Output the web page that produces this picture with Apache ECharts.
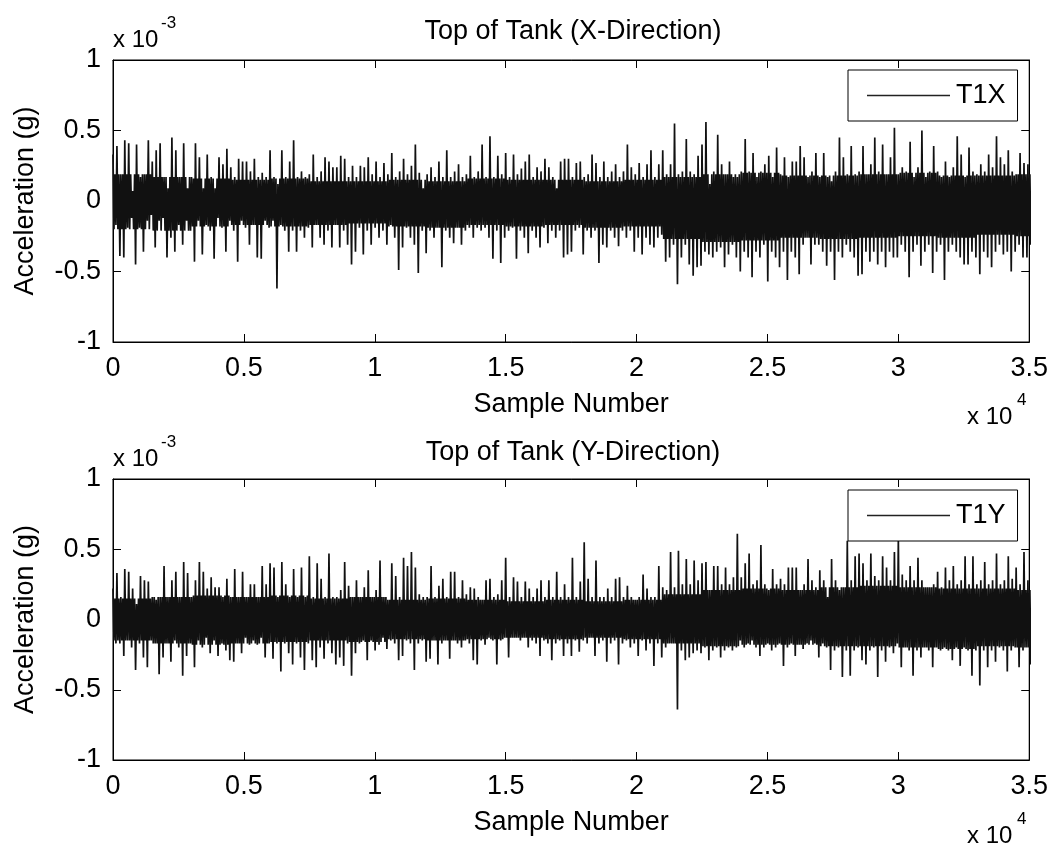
<!DOCTYPE html>
<html>
<head>
<meta charset="utf-8">
<script src="https://cdn.jsdelivr.net/npm/echarts@6/dist/echarts.min.js"></script>
<style>
html,body{margin:0;padding:0;background:#fff;}
#chart{width:1051px;height:848px;}
</style>
</head>
<body>
<div id="chart"></div>
<script>
// Samples per read-off column (one max and one min per column), in sample numbers
const sampleStep = 150;
const coreStep = 1500;   // the core edges below were read every 1500 samples
const xMax = 35000;
const titles = ['Top of Tank (X-Direction)', 'Top of Tank (Y-Direction)'];
const seriesNames = ['T1X', 'T1Y'];
const xTickLabelScale = 1e4;   // "x 10^4"

// Acceleration, units of 1e-3 g: column maxima / minima
const t1xHi = [0.33,0.39,0.19,0.43,0.41,0.07,0.40,0.17,0.19,0.43,0.28,0.36,0.41,0.17,0.09,0.45,0.36,0.17,0.41,0.09,
0.17,0.41,0.31,0.09,0.33,0.17,0.09,0.31,0.26,0.37,0.24,0.17,0.30,0.28,0.28,0.21,0.30,0.17,0.20,0.17,
0.36,0.17,0.12,0.36,0.17,0.28,0.43,0.17,0.21,0.17,0.19,0.33,0.17,0.21,0.31,0.28,0.24,0.24,0.32,0.30,
0.17,0.25,0.17,0.25,0.24,0.31,0.19,0.28,0.17,0.27,0.19,0.34,0.17,0.21,0.30,0.19,0.25,0.40,0.20,0.09,
0.19,0.24,0.17,0.28,0.17,0.36,0.17,0.21,0.26,0.17,0.19,0.32,0.17,0.21,0.40,0.17,0.46,0.17,0.32,0.19,
0.34,0.17,0.33,0.19,0.23,0.28,0.33,0.17,0.24,0.21,0.30,0.24,0.17,0.09,0.28,0.30,0.30,0.17,0.27,0.28,
0.17,0.19,0.33,0.27,0.17,0.28,0.17,0.21,0.26,0.17,0.21,0.40,0.24,0.19,0.27,0.17,0.26,0.36,0.17,0.26,
0.36,0.19,0.26,0.55,0.19,0.21,0.44,0.21,0.19,0.32,0.40,0.56,0.12,0.21,0.47,0.26,0.19,0.28,0.17,0.17,
0.21,0.44,0.21,0.34,0.17,0.21,0.26,0.32,0.17,0.38,0.19,0.31,0.17,0.28,0.28,0.39,0.31,0.17,0.21,0.34,
0.17,0.34,0.17,0.14,0.21,0.45,0.31,0.19,0.39,0.19,0.21,0.39,0.19,0.26,0.45,0.21,0.40,0.19,0.31,0.52,
0.19,0.24,0.21,0.42,0.17,0.24,0.50,0.17,0.21,0.39,0.21,0.17,0.28,0.17,0.24,0.46,0.33,0.17,0.38,0.21,
0.19,0.26,0.21,0.33,0.24,0.46,0.31,0.26,0.36,0.21,0.19,0.34,0.27,0.26];
const t1xLo = [-0.17,-0.39,-0.40,-0.19,-0.12,-0.45,-0.19,-0.36,-0.14,-0.10,-0.33,-0.14,-0.12,-0.40,-0.26,-0.36,-0.17,-0.31,-0.14,-0.21,
-0.43,-0.14,-0.38,-0.17,-0.21,-0.41,-0.12,-0.19,-0.36,-0.14,-0.21,-0.43,-0.14,-0.19,-0.31,-0.17,-0.40,-0.41,-0.14,-0.19,
-0.14,-0.62,-0.17,-0.21,-0.36,-0.21,-0.36,-0.21,-0.26,-0.19,-0.33,-0.17,-0.26,-0.31,-0.21,-0.33,-0.17,-0.33,-0.21,-0.31,
-0.45,-0.36,-0.19,-0.38,-0.21,-0.31,-0.19,-0.26,-0.21,-0.31,-0.17,-0.26,-0.49,-0.33,-0.19,-0.26,-0.31,-0.51,-0.21,-0.37,
-0.21,-0.26,-0.19,-0.47,-0.21,-0.26,-0.30,-0.19,-0.31,-0.21,-0.19,-0.26,-0.19,-0.21,-0.19,-0.26,-0.41,-0.21,-0.44,-0.26,
-0.21,-0.19,-0.41,-0.21,-0.26,-0.37,-0.21,-0.26,-0.33,-0.19,-0.30,-0.21,-0.26,-0.21,-0.40,-0.38,-0.36,-0.21,-0.19,-0.38,
-0.21,-0.26,-0.21,-0.44,-0.31,-0.33,-0.21,-0.26,-0.32,-0.21,-0.26,-0.21,-0.36,-0.26,-0.38,-0.26,-0.31,-0.33,-0.26,-0.24,
-0.43,-0.40,-0.31,-0.59,-0.40,-0.31,-0.45,-0.53,-0.47,-0.46,-0.36,-0.38,-0.40,-0.36,-0.33,-0.47,-0.38,-0.31,-0.40,-0.50,
-0.36,-0.40,-0.54,-0.36,-0.40,-0.31,-0.57,-0.36,-0.40,-0.47,-0.36,-0.56,-0.36,-0.40,-0.52,-0.31,-0.26,-0.45,-0.31,-0.31,
-0.36,-0.46,-0.36,-0.56,-0.36,-0.40,-0.31,-0.36,-0.40,-0.53,-0.52,-0.36,-0.43,-0.36,-0.45,-0.36,-0.47,-0.36,-0.40,-0.40,
-0.31,-0.36,-0.54,-0.36,-0.31,-0.46,-0.36,-0.31,-0.51,-0.36,-0.31,-0.56,-0.36,-0.31,-0.36,-0.40,-0.45,-0.45,-0.36,-0.40,
-0.52,-0.36,-0.40,-0.47,-0.36,-0.31,-0.38,-0.36,-0.50,-0.36,-0.31,-0.40,-0.40,-0.31];
const t1yHi = [0.22,0.33,0.16,0.36,0.34,0.22,0.11,0.31,0.28,0.27,0.16,0.14,0.16,0.38,0.16,0.28,0.34,0.16,0.41,0.33,
0.16,0.28,0.41,0.34,0.22,0.30,0.23,0.23,0.16,0.29,0.16,0.36,0.16,0.34,0.16,0.25,0.25,0.16,0.38,0.25,
0.40,0.37,0.16,0.41,0.25,0.16,0.36,0.16,0.37,0.16,0.45,0.16,0.40,0.29,0.16,0.47,0.16,0.16,0.21,0.41,
0.24,0.16,0.28,0.16,0.23,0.35,0.16,0.21,0.42,0.16,0.14,0.40,0.31,0.16,0.44,0.38,0.48,0.37,0.18,0.16,
0.16,0.38,0.16,0.24,0.29,0.16,0.34,0.34,0.16,0.28,0.18,0.23,0.22,0.16,0.14,0.28,0.29,0.16,0.18,0.28,
0.44,0.16,0.30,0.27,0.16,0.27,0.22,0.16,0.22,0.28,0.16,0.28,0.16,0.34,0.16,0.25,0.16,0.44,0.16,0.27,
0.55,0.29,0.16,0.42,0.16,0.16,0.22,0.16,0.29,0.30,0.16,0.24,0.16,0.14,0.16,0.32,0.22,0.16,0.16,0.38,
0.23,0.21,0.48,0.23,0.49,0.25,0.43,0.25,0.42,0.28,0.40,0.41,0.21,0.38,0.38,0.25,0.37,0.25,0.30,0.61,
0.30,0.40,0.47,0.25,0.28,0.53,0.25,0.21,0.36,0.25,0.29,0.25,0.37,0.37,0.37,0.21,0.25,0.43,0.28,0.23,
0.35,0.28,0.16,0.43,0.28,0.21,0.23,0.56,0.28,0.45,0.47,0.40,0.28,0.47,0.31,0.28,0.45,0.37,0.28,0.48,
0.58,0.32,0.28,0.38,0.28,0.44,0.28,0.23,0.23,0.25,0.34,0.23,0.37,0.28,0.38,0.25,0.28,0.45,0.25,0.45,
0.25,0.28,0.41,0.25,0.28,0.47,0.25,0.28,0.45,0.29,0.37,0.25,0.48,0.28];
const t1yLo = [-0.17,-0.17,-0.26,-0.15,-0.20,-0.36,-0.17,-0.27,-0.34,-0.15,-0.17,-0.39,-0.27,-0.17,-0.30,-0.15,-0.20,-0.40,-0.26,-0.17,
-0.34,-0.15,-0.20,-0.13,-0.24,-0.15,-0.26,-0.17,-0.22,-0.29,-0.30,-0.17,-0.24,-0.13,-0.18,-0.15,-0.18,-0.13,-0.27,-0.17,
-0.28,-0.17,-0.37,-0.17,-0.24,-0.32,-0.17,-0.27,-0.36,-0.17,-0.29,-0.34,-0.20,-0.28,-0.17,-0.24,-0.32,-0.27,-0.33,-0.17,
-0.40,-0.24,-0.17,-0.15,-0.29,-0.15,-0.22,-0.18,-0.13,-0.21,-0.15,-0.17,-0.29,-0.26,-0.15,-0.17,-0.36,-0.17,-0.15,-0.30,
-0.28,-0.15,-0.32,-0.17,-0.15,-0.28,-0.15,-0.17,-0.20,-0.15,-0.17,-0.29,-0.32,-0.15,-0.18,-0.13,-0.15,-0.32,-0.15,-0.13,
-0.27,-0.13,-0.13,-0.15,-0.13,-0.20,-0.15,-0.17,-0.26,-0.15,-0.17,-0.29,-0.17,-0.15,-0.26,-0.17,-0.26,-0.15,-0.23,-0.15,
-0.17,-0.13,-0.26,-0.17,-0.15,-0.30,-0.17,-0.15,-0.32,-0.17,-0.15,-0.20,-0.17,-0.26,-0.15,-0.22,-0.17,-0.33,-0.17,-0.27,
-0.20,-0.17,-0.17,-0.64,-0.22,-0.29,-0.27,-0.24,-0.22,-0.24,-0.20,-0.29,-0.22,-0.20,-0.27,-0.22,-0.20,-0.22,-0.20,-0.15,
-0.20,-0.17,-0.15,-0.20,-0.26,-0.20,-0.17,-0.22,-0.20,-0.17,-0.33,-0.20,-0.17,-0.26,-0.18,-0.21,-0.17,-0.15,-0.17,-0.27,
-0.17,-0.20,-0.36,-0.22,-0.20,-0.41,-0.22,-0.40,-0.22,-0.20,-0.29,-0.32,-0.22,-0.20,-0.41,-0.22,-0.30,-0.20,-0.24,-0.17,
-0.34,-0.20,-0.22,-0.40,-0.22,-0.27,-0.20,-0.22,-0.34,-0.20,-0.22,-0.20,-0.22,-0.29,-0.20,-0.33,-0.20,-0.22,-0.40,-0.22,
-0.47,-0.22,-0.34,-0.22,-0.30,-0.20,-0.22,-0.37,-0.22,-0.20,-0.34,-0.22,-0.20,-0.32];

// Edges of the dense dark core of each trace, read every 1500 samples
const t1xCoreHi = [0.19,0.17,0.16,0.15,0.16,0.14,0.14,0.15,0.14,0.16,0.15,0.15,0.14,0.15,0.17,0.19,0.20,0.18,0.18,0.19,0.20,0.18,0.18,0.19,0.19];
const t1xCoreLo = [-0.20,-0.21,-0.18,-0.17,-0.18,-0.17,-0.16,-0.18,-0.19,-0.17,-0.18,-0.17,-0.19,-0.18,-0.27,-0.29,-0.28,-0.26,-0.27,-0.26,-0.25,-0.26,-0.24,-0.25,-0.24];
const t1yCoreHi = [0.15,0.16,0.17,0.16,0.17,0.15,0.16,0.14,0.15,0.14,0.13,0.14,0.13,0.14,0.18,0.21,0.22,0.21,0.23,0.24,0.23,0.22,0.22,0.21,0.22];
const t1yCoreLo = [-0.15,-0.17,-0.18,-0.17,-0.16,-0.15,-0.16,-0.14,-0.15,-0.14,-0.13,-0.14,-0.13,-0.14,-0.17,-0.19,-0.18,-0.18,-0.19,-0.19,-0.20,-0.21,-0.19,-0.20,-0.19];

// Each read-off column: its maximum, a swing through the core, and its minimum
function buildTrace(hi, lo, coreHi, coreLo) {
  const d = [];
  const q = sampleStep / 4;
  for (let i = 0; i < hi.length; i++) {
    const k = Math.min(Math.floor(i * sampleStep / coreStep), coreHi.length - 1);
    const x0 = i * sampleStep;
    d.push([x0, hi[i]]);
    d.push([x0 + q, coreLo[k]]);
    d.push([x0 + 2 * q, coreHi[k]]);
    d.push([x0 + 3 * q, lo[i]]);
  }
  return d;
}

const FONT = 'Liberation Sans, Arial, sans-serif';
const FS = 27;
const black = '#000';
const ink = '#111';

const grids = [
  {left: 113, top: 60, width: 917, height: 282},
  {left: 113, top: 479, width: 917, height: 281}
];

const xAxes = [], yAxes = [];
grids.forEach((g, gi) => {
  xAxes.push({
    type: 'value', gridIndex: gi, min: 0, max: xMax, interval: 5000, position: 'bottom',
    name: 'Sample Number', nameLocation: 'middle', nameGap: 49,
    nameTextStyle: {fontSize: FS, color: black, fontFamily: FONT},
    axisLine: {show: true, onZero: false, lineStyle: {color: black, width: 1}},
    axisTick: {show: true, inside: true, length: 8, lineStyle: {color: black}},
    axisLabel: {show: true, fontSize: FS, color: black, fontFamily: FONT, margin: 13,
      formatter: v => String(Math.round(v / xTickLabelScale * 100) / 100)},
    splitLine: {show: false}
  });
  xAxes.push({
    type: 'value', gridIndex: gi, min: 0, max: xMax, interval: 5000, position: 'top',
    axisLine: {show: true, onZero: false, lineStyle: {color: black, width: 1}},
    axisTick: {show: true, inside: true, length: 8, lineStyle: {color: black}},
    axisLabel: {show: false}, splitLine: {show: false}
  });
  yAxes.push({
    type: 'value', gridIndex: gi, min: -1, max: 1, interval: 0.5, position: 'left',
    name: 'Acceleration (g)', nameLocation: 'middle', nameGap: 74,
    nameTextStyle: {fontSize: FS, color: black, fontFamily: FONT},
    axisLine: {show: true, onZero: false, lineStyle: {color: black, width: 1}},
    axisTick: {show: true, inside: true, length: 8, lineStyle: {color: black}},
    axisLabel: {show: true, fontSize: FS, color: black, fontFamily: FONT, margin: 12},
    splitLine: {show: false}
  });
  yAxes.push({
    type: 'value', gridIndex: gi, min: -1, max: 1, interval: 0.5, position: 'right',
    axisLine: {show: true, onZero: false, lineStyle: {color: black, width: 1}},
    axisTick: {show: true, inside: true, length: 8, lineStyle: {color: black}},
    axisLabel: {show: false}, splitLine: {show: false}
  });
});

const traces = [
  buildTrace(t1xHi, t1xLo, t1xCoreHi, t1xCoreLo),
  buildTrace(t1yHi, t1yLo, t1yCoreHi, t1yCoreLo)
];

const series = traces.map((d, i) => ({
  name: seriesNames[i], type: 'line', xAxisIndex: i * 2, yAxisIndex: i * 2,
  data: d, symbol: 'none', showSymbol: false, sampling: null, clip: true,
  lineStyle: {color: ink, width: 1.7}, itemStyle: {color: ink}, z: 2
}));

const legends = [70, 490].map((top, i) => ({
  data: [seriesNames[i]], left: 848, top: top, orient: 'horizontal',
  backgroundColor: '#fff', borderColor: black, borderWidth: 1,
  padding: [12, 12, 12, 19], itemWidth: 83, itemHeight: 1.5, icon: 'rect',
  itemStyle: {color: '#222', borderWidth: 0},
  textStyle: {fontSize: FS, color: black, fontFamily: FONT, padding: [0, 0, 0, 1]},
  selectedMode: false, z: 10
}));

const titleTops = [13, 434];
const title = titles.map((t, i) => ({
  text: t, left: 568, top: titleTops[i], textAlign: 'center',
  textStyle: {fontSize: FS, fontWeight: 'normal', color: black, fontFamily: FONT}
}));

function txt(x, y, s, fs) {
  return {type: 'text', left: x, top: y, z: 20,
    style: {text: s, fontSize: fs, fill: black, fontFamily: FONT}};
}
const graphic = [
  txt(113, 28, 'x 10', 24), txt(161, 15, '-3', 17),
  txt(967, 405, 'x 10', 24), txt(1017, 392, '4', 17),
  txt(113, 447, 'x 10', 24), txt(161, 434, '-3', 17),
  txt(967, 824, 'x 10', 24), txt(1017, 811, '4', 17)
];

const chart = echarts.init(document.getElementById('chart'), null, {renderer: 'canvas'});
chart.setOption({
  animation: false,
  backgroundColor: '#fff',
  textStyle: {fontFamily: FONT},
  title: title,
  grid: grids.map(g => Object.assign({show: true, borderColor: black, borderWidth: 1, backgroundColor: '#fff'}, g)),
  xAxis: xAxes,
  yAxis: yAxes,
  legend: legends,
  series: series,
  graphic: graphic
});
</script>
</body>
</html>
